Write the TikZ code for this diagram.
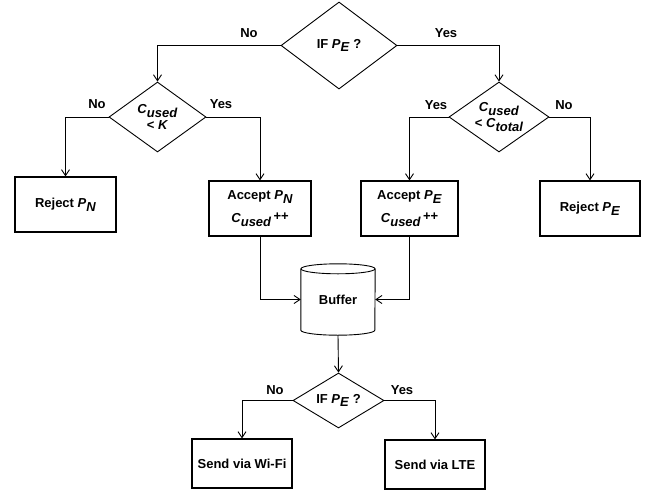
\documentclass[tikz,border=0pt]{standalone}
\usepackage{fontspec}
\setmainfont{Liberation Sans}
\usetikzlibrary{positioning}
\usetikzlibrary{shapes.geometric}
\usetikzlibrary{arrows.meta}

\newcommand{\vsub}[2]{\textit{#1}\raisebox{-0.55ex}{\textit{#2}}}

\tikzset{
  decision/.style = {draw, diamond, aspect=1.4, inner sep=0pt, align=center,
    line width=0.9pt, font=\bfseries\fontsize{13}{16}\selectfont},
  process/.style = {draw, rectangle, inner sep=0pt, align=center,
    line width=1.1pt, font=\bfseries\fontsize{13}{23}\selectfont},
  answer/.style = {inner sep=0pt, font=\bfseries\fontsize{13}{13}\selectfont},
  flow/.style = {-{Straight Barb[length=6pt,width=8pt]}, line width=0.9pt}
}

\begin{document}
\begin{tikzpicture}[x=1pt, y=-1pt]
      \useasboundingbox (0,0) rectangle (654,493);

      \node[decision, minimum width=116pt, minimum height=87pt] (ifE) at (339,45.5) {IF \vsub{P}{E} ?};
      \node[decision, minimum width=97pt, minimum height=70pt] (lessK) at (157.5,117) {\vsub{C}{used}\\< \textit{K}};
      \node[decision, minimum width=100pt, minimum height=70pt] (lessT) at (499,117) {\vsub{C}{used}\\< \vsub{C}{total}};

      \node[process, minimum width=101pt, minimum height=55pt] (rejN) at (65.5,204.5) {Reject \vsub{P}{N}};
      \node[process, minimum width=102pt, minimum height=55pt] (accN) at (260,208.5) {Accept \vsub{P}{N}\\\vsub{C}{used}\,\raisebox{0.35ex}{++}};
      \node[process, minimum width=97pt, minimum height=55pt] (accE) at (409.5,208.5) {Accept \vsub{P}{E}\\\vsub{C}{used}\,\raisebox{0.35ex}{++}};
      \node[process, minimum width=100pt, minimum height=55pt] (rejE) at (590,208.5) {Reject \vsub{P}{E}};

      \node[answer, minimum width=74pt, minimum height=71pt] (buf) at (338,299.5) {Buffer};
      \draw[line width=0.9pt] ([yshift=-5pt]buf.north west) -- ([yshift=5pt]buf.south west)
        arc[start angle=180, end angle=360, x radius=37pt, y radius=5pt] -- ([yshift=-5pt]buf.north east);
      \draw[line width=0.9pt] ([yshift=-5pt]buf.north) ellipse[x radius=37pt, y radius=5pt];

      \node[decision, minimum width=91pt, minimum height=55pt] (sendE) at (338.5,400.5) {IF \vsub{P}{E} ?};
      \node[process, minimum width=100pt, minimum height=49pt] (wifi) at (242,463.5) {Send via Wi-Fi};
      \node[process, minimum width=100pt, minimum height=49pt] (lte) at (435,464.5) {Send via LTE};

      \draw[flow] (ifE.west) -| (lessK.north);
      \draw[flow] (ifE.east) -| (lessT.north);
      \draw[flow] (lessK.west) -| (rejN.north);
      \draw[flow] (lessK.east) -| (accN.north);
      \draw[flow] (lessT.west) -| (accE.north);
      \draw[flow] (lessT.east) -| (rejE.north);
      \draw[flow] (accN.south) |- (buf.west);
      \draw[flow] (accE.south) |- (buf.east);
      \draw[flow] (buf.south) -- (sendE.north);
      \draw[flow] (sendE.west) -| (wifi.north);
      \draw[flow] (sendE.east) -| (lte.north);

      \node[answer] (no1) at (249,33) {No};
      \node[answer] (yes1) at (446,33) {Yes};
      \node[answer] (no2) at (97,104) {No};
      \node[answer] (yes2) at (221,104) {Yes};
      \node[answer] (yes3) at (436,105) {Yes};
      \node[answer] (no3) at (564,105) {No};
      \node[answer] (no4) at (275,390) {No};
      \node[answer] (yes4) at (402,390) {Yes};
\end{tikzpicture}
\end{document}
